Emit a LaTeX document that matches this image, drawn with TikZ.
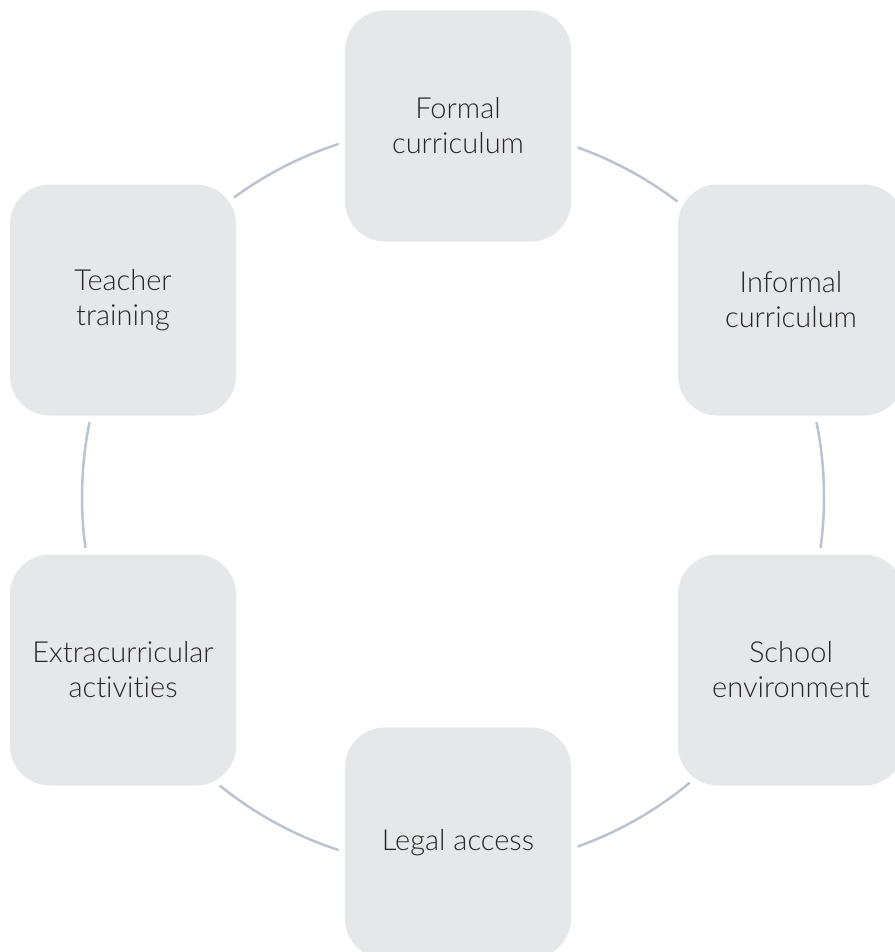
\documentclass[tikz,border=0pt]{standalone}
\usepackage{fontspec}
\setmainfont{Lato}[UprightFont={* Light}, Ligatures=NoCommon]
\definecolor{boxfill}{RGB}{230,231,233}
\definecolor{ringcol}{RGB}{188,195,208}
\definecolor{txtcol}{RGB}{40,38,40}
\begin{document}
\begin{tikzpicture}[x=1pt,y=-1pt,
  stagebox/.style={fill=boxfill, rounded corners=40pt, minimum width=226pt, minimum height=231pt,
    inner sep=0pt, align=center, text=txtcol, font=\fontsize{29}{35}\selectfont,
    preaction={draw=white, line width=13pt}},
  ring/.style={draw=ringcol, line width=2.5pt}]
\useasboundingbox (0,0) rectangle (894,952);
\coordinate (c) at (453,497);
\draw[ring] (c) circle (371pt);
\node[stagebox] (formal) at (458,126) {Formal\\curriculum};
\node[stagebox] (informal) at (791,300) {Informal\\curriculum};
\node[stagebox] (school) at (791,670) {School\\environment};
\node[stagebox] (legal) at (458,843) {Legal access};
\node[stagebox] (extra) at (123,670) {Extracurricular\\activities};
\node[stagebox] (teacher) at (123,300) {Teacher\\training};
\end{tikzpicture}
\end{document}
